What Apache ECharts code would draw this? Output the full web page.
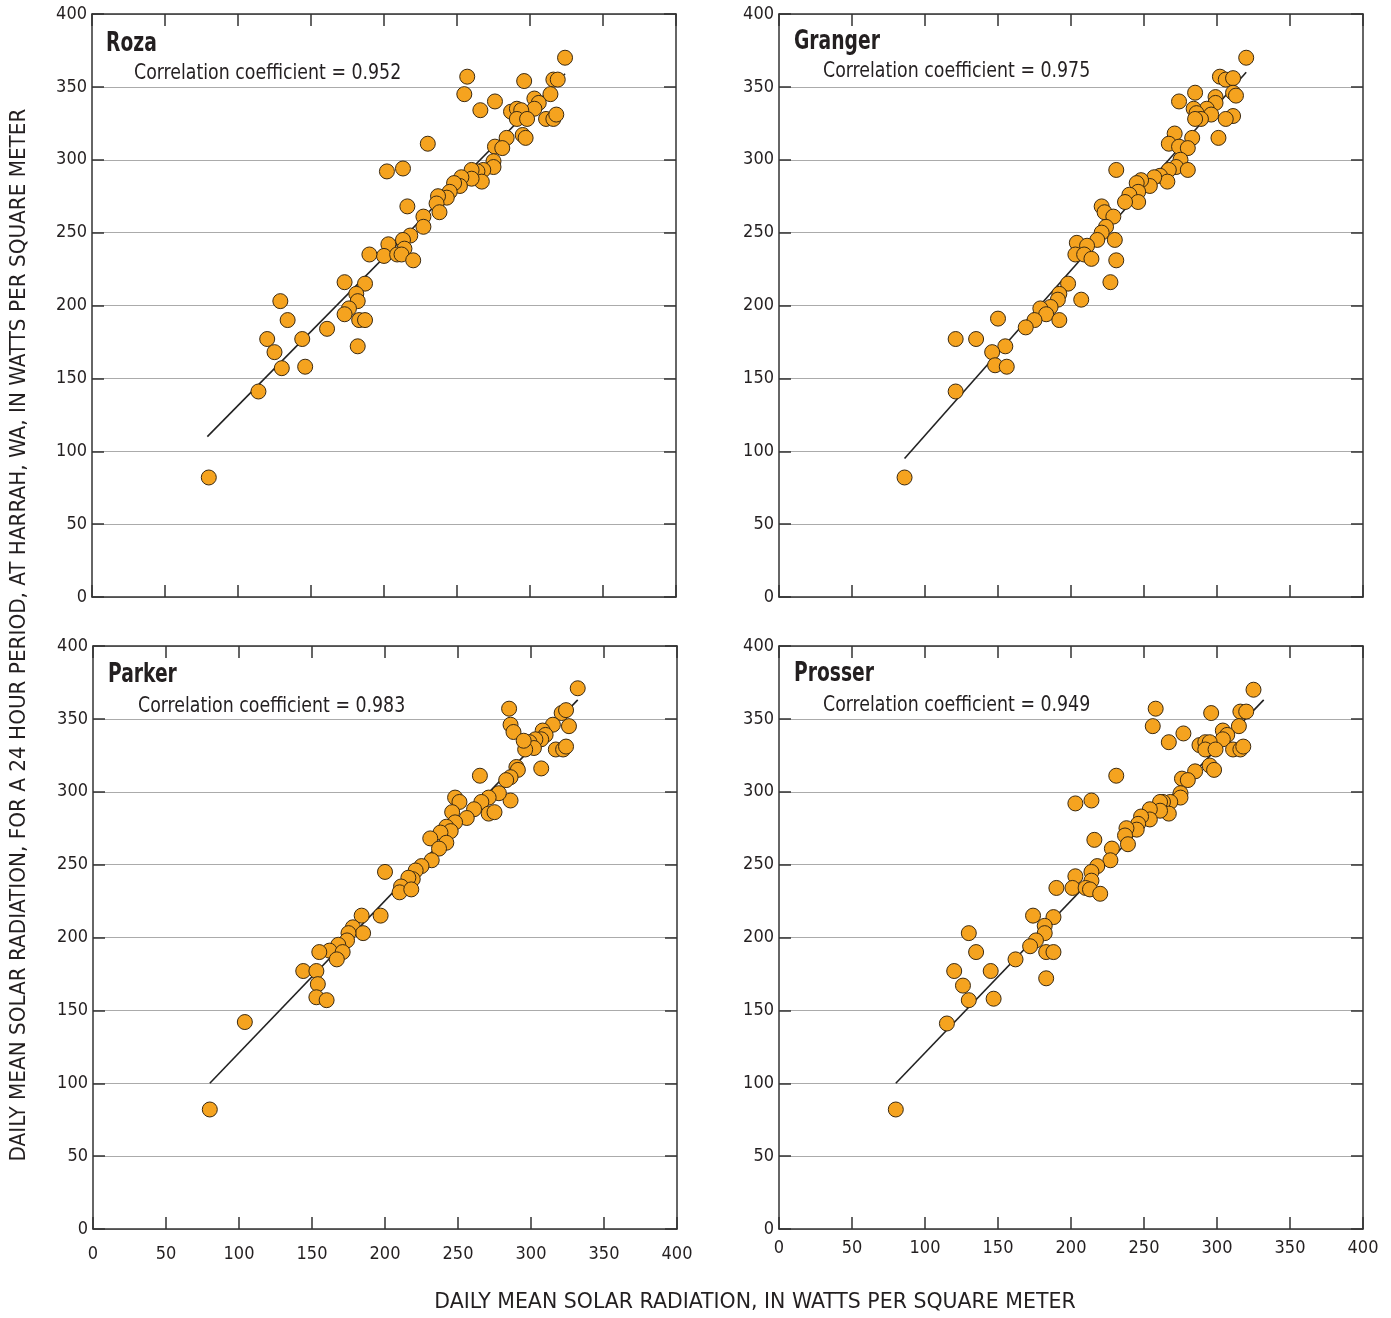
<!DOCTYPE html>
<html>
<head>
<meta charset="utf-8">
<script src="https://cdn.jsdelivr.net/npm/echarts@6/dist/echarts.min.js"></script>
<style>
html,body{margin:0;padding:0;background:#fff;}
#chart{width:1391px;height:1318px;}
</style>
</head>
<body>
<div id="chart"></div>
<script>
// ---- Data (x = station radiation, y = Harrah radiation), W/m^2 ----
var stations = ['Roza', 'Granger', 'Parker', 'Prosser'];
var correlations = ['0.952', '0.975', '0.983', '0.949'];
var tickValues = [0, 50, 100, 150, 200, 250, 300, 350, 400];

var rozaPoints = [[324,370],[257,357],[255,345],[266,334],[276,340],[296,354],[316,355],[319,355],[314,345],[303,342],[306,339],[303,335],[287,333],[291,335],[294,334],[291,328],[298,328],[311,328],[316,328],[318,331],[295,317],[297,315],[284,315],[276,309],[281,308],[275,299],[275,295],[268,293],[264,292],[260,293],[267,285],[260,287],[253,288],[252,282],[248,284],[245,278],[243,274],[237,275],[236,270],[238,264],[227,261],[227,254],[216,268],[230,311],[202,292],[213,294],[218,248],[213,245],[214,239],[203,242],[200,234],[209,235],[212,235],[220,231],[190,235],[187,215],[173,216],[181,208],[182,203],[176,198],[173,194],[183,190],[187,190],[182,172],[129,203],[134,190],[120,177],[125,168],[144,177],[161,184],[130,157],[146,158],[114,141],[80,82]];
var grangerPoints = [[320,370],[302,357],[306,355],[311,356],[285,346],[274,340],[299,343],[299,339],[311,346],[313,344],[311,330],[306,328],[293,335],[296,331],[284,335],[286,332],[289,328],[285,328],[301,315],[271,318],[283,315],[267,311],[274,309],[280,308],[275,300],[272,295],[280,293],[267,293],[261,289],[266,285],[257,288],[254,282],[248,286],[245,284],[246,278],[240,276],[246,271],[237,271],[231,293],[221,268],[223,264],[229,261],[224,254],[221,250],[218,245],[230,245],[231,231],[227,216],[204,243],[211,241],[203,235],[209,235],[214,232],[207,204],[198,215],[192,208],[191,204],[186,199],[179,198],[183,194],[175,190],[192,190],[169,185],[150,191],[121,177],[135,177],[155,172],[146,168],[148,159],[156,158],[121,141],[86,82]];
var parkerPoints = [[332,371],[285,357],[321,354],[324,356],[326,345],[286,346],[288,341],[315,346],[308,342],[310,339],[307,336],[303,336],[299,334],[302,330],[296,329],[295,335],[317,329],[322,329],[324,331],[307,316],[290,317],[291,315],[286,310],[283,308],[265,311],[286,294],[278,299],[271,296],[266,293],[261,288],[256,282],[248,296],[251,293],[246,286],[248,279],[242,276],[245,273],[238,272],[242,265],[231,268],[237,261],[271,285],[275,286],[232,253],[225,249],[221,246],[219,240],[216,241],[211,235],[210,231],[218,233],[200,245],[197,215],[184,215],[178,207],[185,203],[175,203],[174,198],[168,195],[162,191],[155,190],[171,190],[167,185],[144,177],[153,177],[154,168],[153,159],[160,157],[104,142],[80,82]];
var prosserPoints = [[325,370],[258,357],[256,345],[267,334],[277,340],[296,354],[316,355],[320,355],[315,345],[304,342],[307,339],[304,336],[288,332],[292,334],[295,334],[292,329],[299,329],[311,329],[316,329],[318,331],[295,318],[298,315],[285,314],[276,309],[280,308],[275,299],[275,296],[268,293],[263,293],[261,293],[267,285],[261,287],[254,288],[254,281],[248,283],[246,278],[245,274],[238,275],[237,270],[239,264],[228,261],[227,253],[216,267],[231,311],[203,292],[214,294],[218,249],[214,245],[214,239],[203,242],[201,234],[210,234],[213,233],[220,230],[190,234],[188,214],[174,215],[182,208],[182,203],[176,198],[172,194],[183,190],[188,190],[183,172],[130,203],[135,190],[120,177],[126,167],[145,177],[162,185],[130,157],[147,158],[115,141],[80,82]];

var rozaLine = [[79,110],[324,359]];
var grangerLine = [[86,95],[320,360]];
var parkerLine = [[80,100],[332,363]];
var prosserLine = [[80,100],[332,363]];

var yAxisTitle = 'DAILY MEAN SOLAR RADIATION, FOR A 24 HOUR PERIOD, AT HARRAH, WA, IN WATTS PER SQUARE METER';
var xAxisTitle = 'DAILY MEAN SOLAR RADIATION, IN WATTS PER SQUARE METER';

// ---- Layout / style ----
var FONT = "'Liberation Sans Narrow', 'DejaVu Sans Condensed', 'Arial Narrow', sans-serif";
var TXT = '#231f20';
var AX = '#333333';
var pointSets = [rozaPoints, grangerPoints, parkerPoints, prosserPoints];
var lineSets = [rozaLine, grangerLine, parkerLine, prosserLine];
var grids = [
  {left: 92, top: 14, width: 584, height: 583},
  {left: 779, top: 14, width: 584, height: 583},
  {left: 93, top: 646, width: 584, height: 583},
  {left: 779, top: 646, width: 584, height: 583}
];
var xLabelShow = [false, false, true, true];
var xLabelMargin = [15, 15, 16, 10];
var titlePos = [[106, 44, 134, 74], [794, 42, 823, 72], [108, 675, 138, 707], [794, 674, 823, 706]];

var xAxes = [], yAxes = [], series = [], graphics = [];
var axisLineStyle = {show: true, onZero: false, lineStyle: {color: AX, width: 1.5}};
var tickStyle = {show: true, inside: true, length: 12, lineStyle: {color: AX, width: 1.5}};
var labelStyle = {fontSize: 18, color: TXT, fontFamily: FONT};

for (var i = 0; i < 4; i++) {
  var base = {gridIndex: i, type: 'value', min: tickValues[0], max: tickValues[tickValues.length - 1], interval: tickValues[1] - tickValues[0]};
  xAxes.push(Object.assign({}, base, {position: 'bottom', axisLine: axisLineStyle, axisTick: tickStyle,
    axisLabel: Object.assign({show: xLabelShow[i], margin: xLabelMargin[i]}, labelStyle), splitLine: {show: false}}));
  xAxes.push(Object.assign({}, base, {position: 'top', axisLine: axisLineStyle, axisTick: tickStyle,
    axisLabel: {show: false}, splitLine: {show: false}}));
  yAxes.push(Object.assign({}, base, {position: 'left', axisLine: axisLineStyle, axisTick: tickStyle,
    axisLabel: Object.assign({show: true, margin: 5}, labelStyle),
    splitLine: {show: true, lineStyle: {color: '#ababab', width: 1.2}}}));
  yAxes.push(Object.assign({}, base, {position: 'right', axisLine: axisLineStyle, axisTick: tickStyle,
    axisLabel: {show: false}, splitLine: {show: false}}));

  series.push({type: 'line', xAxisIndex: 2 * i, yAxisIndex: 2 * i, data: lineSets[i], showSymbol: false, symbol: 'none',
    lineStyle: {color: '#222', width: 1.6}, z: 3, silent: true, animation: false});
  series.push({type: 'scatter', xAxisIndex: 2 * i, yAxisIndex: 2 * i, data: pointSets[i], symbolSize: 15,
    itemStyle: {color: '#F5A31F', borderColor: '#3b2a12', borderWidth: 1, opacity: 1}, z: 4, animation: false});

  graphics.push({type: 'text', x: titlePos[i][0], y: titlePos[i][1], scaleX: 0.8, z: 10,
    style: {text: stations[i], font: 'bold 26px ' + FONT, fill: TXT, textAlign: 'left', textVerticalAlign: 'middle'}});
  graphics.push({type: 'text', x: titlePos[i][2], y: titlePos[i][3], scaleX: 0.92, z: 10,
    style: {text: 'Correlation coefficient = ' + correlations[i], font: '21px ' + FONT, fill: TXT, textAlign: 'left', textVerticalAlign: 'middle'}});
}

graphics.push({type: 'text', x: 20, y: 635, rotation: Math.PI / 2, scaleX: 1.06, z: 10,
  style: {text: yAxisTitle, font: '21px ' + FONT, fill: TXT, textAlign: 'center', textVerticalAlign: 'middle'}});
graphics.push({type: 'text', x: 755, y: 1303, scaleX: 1.085, z: 10,
  style: {text: xAxisTitle, font: '21px ' + FONT, fill: TXT, textAlign: 'center', textVerticalAlign: 'middle'}});

var chart = echarts.init(document.getElementById('chart'), null, {renderer: 'canvas'});
chart.setOption({
  animation: false,
  backgroundColor: '#ffffff',
  grid: grids,
  xAxis: xAxes,
  yAxis: yAxes,
  series: series,
  graphic: graphics
});
</script>
</body>
</html>
